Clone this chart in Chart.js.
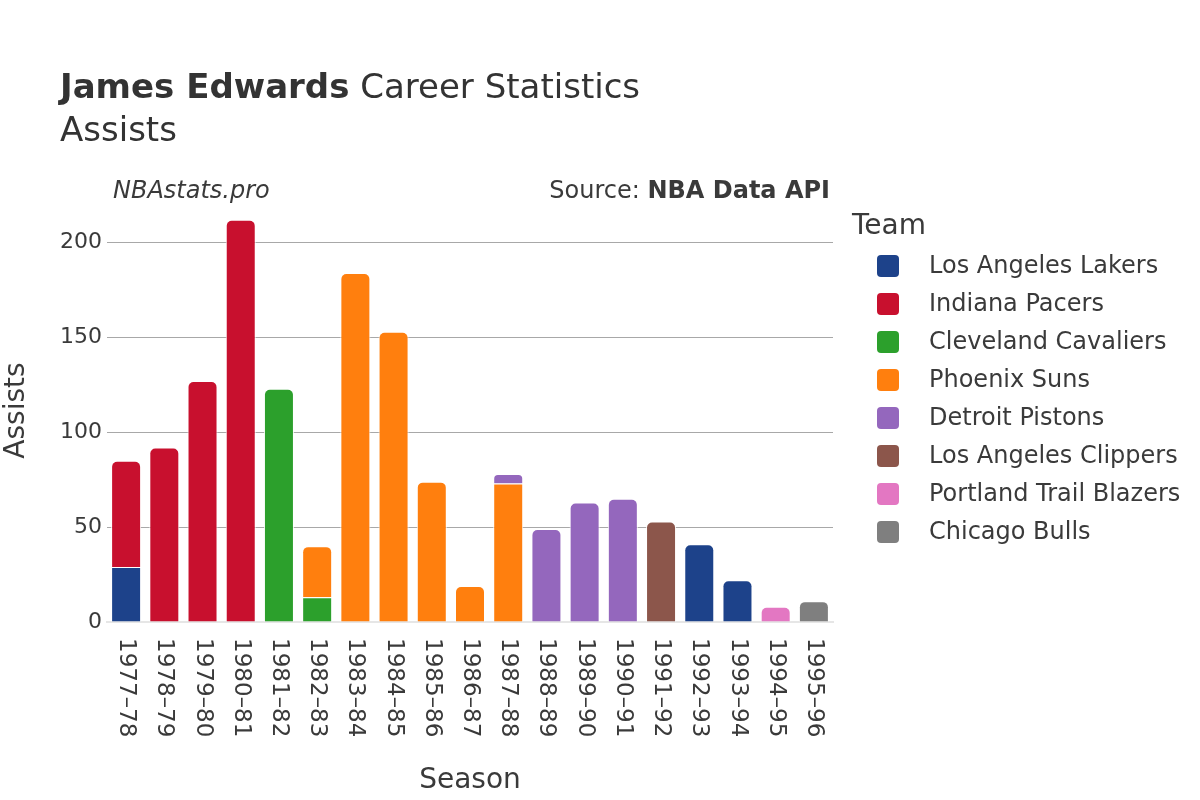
<!DOCTYPE html>
<html>
<head>
<meta charset="utf-8">
<script src="https://cdn.jsdelivr.net/npm/chart.js@4/dist/chart.umd.min.js"></script>
<style>
  html, body { margin: 0; padding: 0; background: #fff; }
  #wrap { width: 1200px; height: 800px; position: relative; }
</style>
</head>
<body>
<div id="wrap"><canvas id="c" width="1200" height="800"></canvas></div>
<script>
const seasons = ["1977–78","1978–79","1979–80","1980–81","1981–82","1982–83","1983–84","1984–85","1985–86","1986–87","1987–88","1988–89","1989–90","1990–91","1991–92","1992–93","1993–94","1994–95","1995–96"];
const teams = ["Los Angeles Lakers","Indiana Pacers","Cleveland Cavaliers","Phoenix Suns","Detroit Pistons","Los Angeles Clippers","Portland Trail Blazers","Chicago Bulls"];
const teamColors = ["#1d428a","#c8102e","#2ca02c","#ff7f0e","#9467bd","#8c564b","#e377c2","#7f7f7f"];
const lakers   = [29,null,null,null,null,null,null,null,null,null,null,null,null,null,null,41,22,null,null];
const pacers   = [56,92,127,212,null,null,null,null,null,null,null,null,null,null,null,null,null,null,null];
const cavs     = [null,null,null,null,123,13,null,null,null,null,null,null,null,null,null,null,null,null,null];
const suns     = [null,null,null,null,null,27,184,153,74,19,73,null,null,null,null,null,null,null,null];
const pistons  = [null,null,null,null,null,null,null,null,null,null,5,49,63,65,null,null,null,null,null];
const clippers = [null,null,null,null,null,null,null,null,null,null,null,null,null,null,53,null,null,null,null];
const blazers  = [null,null,null,null,null,null,null,null,null,null,null,null,null,null,null,null,null,8,null];
const bulls    = [null,null,null,null,null,null,null,null,null,null,null,null,null,null,null,null,null,null,11];
const yTicks = [0,50,100,150,200];
const seriesValues = [lakers,pacers,cavs,suns,pistons,clippers,blazers,bulls];

const FONT = "'DejaVu Sans', sans-serif";
const TXT = "#3a3a3a";

function isTopSegment(ctx) {
  const idx = ctx.dataIndex, di = ctx.datasetIndex;
  for (let k = seriesValues.length - 1; k > di; k--) {
    const v = seriesValues[k][idx];
    if (v !== null && v !== undefined && v !== 0) return false;
  }
  return true;
}

const datasets = teams.map((t, i) => ({
  label: t,
  data: seriesValues[i],
  backgroundColor: teamColors[i],
  borderColor: "rgba(255,255,255,0.9)",
  borderWidth: 1,
  borderSkipped: 'start',
  borderRadius: ctx => isTopSegment(ctx) ? {topLeft: 6, topRight: 6, bottomLeft: 0, bottomRight: 0} : 0,
  barPercentage: 0.785,
  categoryPercentage: 1.0
}));

const overlay = {
  id: 'overlay',
  afterDraw(chart) {
    const c = chart.ctx;
    c.save();
    // titles
    c.fillStyle = "#333";
    c.textBaseline = 'middle';
    c.textAlign = 'left';
    c.font = "bold 34px " + FONT;
    const bold = "James Edwards";
    c.fillText(bold, 60, 89);
    const w = c.measureText(bold).width;
    c.font = "34px " + FONT;
    c.fillText(" Career Statistics", 60 + w, 89);
    c.fillText("Assists", 60, 132);
    // watermark and source
    c.fillStyle = TXT;
    c.font = "italic 24px " + FONT;
    c.fillText("NBAstats.pro", 113, 192);
    c.textAlign = 'right';
    c.font = "bold 24px " + FONT;
    const src = "NBA Data API";
    c.fillText(src, 830, 192);
    const sw = c.measureText(src).width;
    c.font = "24px " + FONT;
    c.fillText("Source: ", 830 - sw, 192);
    // x tick labels, rotated clockwise
    const xs = chart.scales.x;
    c.font = "23px " + FONT;
    c.fillStyle = TXT;
    c.textAlign = 'left';
    c.textBaseline = 'middle';
    seasons.forEach((s, i) => {
      const x = xs.getPixelForValue(i);
      c.save();
      c.translate(x, 638);
      c.rotate(Math.PI / 2);
      c.fillText(s, 0, 0);
      c.restore();
    });
    // legend
    c.fillStyle = TXT;
    c.font = "28px " + FONT;
    c.textAlign = 'left';
    c.fillText("Team", 852, 227);
    c.font = "24px " + FONT;
    teams.forEach((t, i) => {
      const y = 266 + 38 * i;
      c.fillStyle = teamColors[i];
      c.beginPath();
      if (c.roundRect) c.roundRect(877, y - 11, 22, 22, 4); else c.rect(877, y - 11, 22, 22);
      c.fill();
      c.fillStyle = TXT;
      c.fillText(t, 929, y + 1);
    });
    c.restore();
  }
};

new Chart(document.getElementById('c'), {
  type: 'bar',
  data: { labels: seasons, datasets },
  plugins: [overlay],
  options: {
    responsive: false,
    animation: false,
    devicePixelRatio: 1,
    layout: { padding: { top: 199, right: 367, left: 0, bottom: 0 } },
    plugins: { legend: { display: false }, title: { display: false }, tooltip: { enabled: false } },
    scales: {
      x: {
        stacked: true,
        grid: { display: false, drawTicks: false },
        border: { display: true, color: "#e6e6e6", width: 2 },
        ticks: { display: false },
        afterFit: s => { s.height = 178; },
        title: { display: true, text: "Season", color: TXT, font: { family: FONT, size: 28 }, padding: { top: 0, bottom: 2 } }
      },
      y: {
        stacked: true,
        min: 0,
        max: 223,
        afterBuildTicks: axis => { axis.ticks = yTicks.map(v => ({ value: v })); },
        grid: { color: ctx => (ctx.tick && ctx.tick.value === 0) ? 'rgba(0,0,0,0)' : '#a8a8a8', lineWidth: 1, drawTicks: false },
        border: { display: false },
        ticks: { color: TXT, font: { family: FONT, size: 22 }, padding: 5 },
        afterFit: s => { s.width = 107; },
        title: { display: true, text: "Assists", color: TXT, font: { family: FONT, size: 28 }, padding: { top: 0, bottom: 0 } }
      }
    }
  }
});
</script>
</body>
</html>
